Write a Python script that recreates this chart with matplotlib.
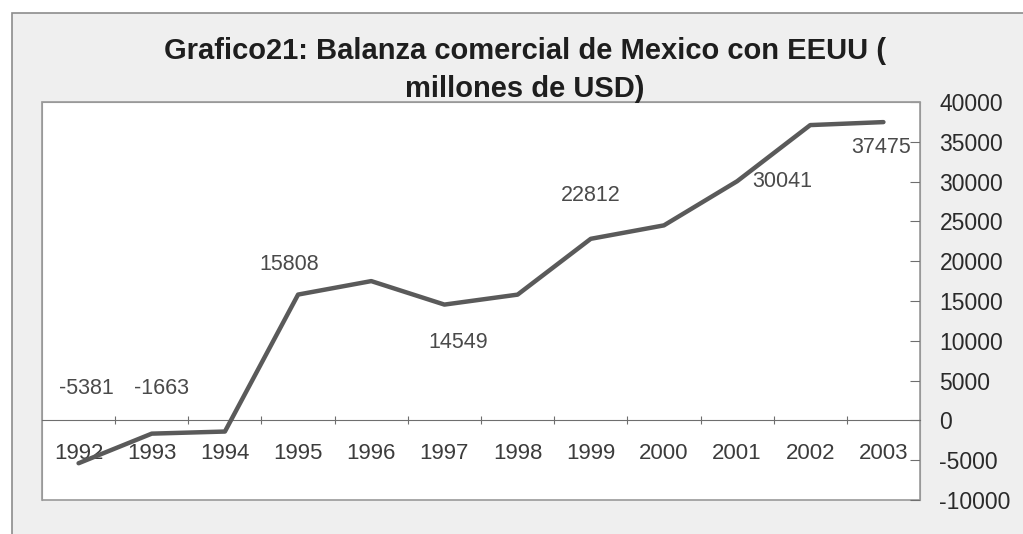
import matplotlib.pyplot as plt
from matplotlib.patches import Rectangle

plt.rcParams["font.family"] = ["Liberation Sans", "DejaVu Sans"]
plt.rcParams["axes.unicode_minus"] = False

# Balanza comercial de Mexico con EEUU, millones de USD
years = ["1992", "1993", "1994", "1995", "1996", "1997",
         "1998", "1999", "2000", "2001", "2002", "2003"]
balance = [-5381, -1663, -1400, 15808, 17500, 14549,
           15800, 22812, 24500, 30041, 37100, 37475]
labeled = ["1992", "1993", "1995", "1997", "1999", "2001", "2003"]
title_lines = ["Grafico21: Balanza comercial de Mexico con EEUU (",
               "millones de USD)"]

# offset of each value label from its point, in pixels
label_offsets = {"1992": (8, 75), "1993": (10, 45), "1995": (-9, 30),
                 "1997": (14, -38), "1999": (0, 43), "2001": (45, 0),
                 "2003": (-2, -25)}

W, H = 1023, 534
fig = plt.figure(figsize=(W / 100, H / 100), dpi=100)
fig.patch.set_facecolor("white")

# chart area frame, behind the axes; runs off the right and bottom edges
frame = Rectangle((12 / W, -0.1), 1.0, 1.1 - 13 / H, transform=fig.transFigure,
                  facecolor="#efefef", edgecolor="#8c8c8c", lw=1.2, zorder=-5)
fig.patches.append(frame)

ax = fig.add_axes([42 / W, 34 / H, 878 / W, 398 / H])
ax.set_facecolor("white")
ax.set_zorder(2)

x = list(range(len(years)))
ax.plot(x, balance, color="#5a5a5a", lw=3.2, solid_joinstyle="round",
        solid_capstyle="round", zorder=3)

for yr in labeled:
    i = years.index(yr)
    ax.annotate(str(balance[i]), (i, balance[i]), xytext=label_offsets[yr],
                textcoords="offset pixels", ha="center", va="center",
                fontsize=15.5, color="#4a4a4a")

ax.set_xlim(-0.5, len(years) - 0.5)
ax.set_ylim(-10000, 40000)

# category axis crosses at zero, ticks between categories
ax.spines["bottom"].set_position(("data", 0))
ax.spines["bottom"].set_color("#6e6e6e")
ax.set_xticks([i + 0.5 for i in range(len(years) - 1)])
ax.set_xticklabels([])
ax.set_xticks(x, minor=True)
ax.set_xticklabels(years, minor=True)
ax.tick_params(axis="x", which="major", direction="inout", length=6,
               color="#6e6e6e")
ax.tick_params(axis="x", which="minor", length=0, pad=16, labelsize=16,
               labelcolor="#3c3c3c")

ax.yaxis.tick_right()
ax.set_yticks(range(-10000, 40001, 5000))
ax.tick_params(axis="y", direction="in", length=7, pad=14, labelsize=16.5,
               labelcolor="#2a2a2a", color="#6e6e6e")

for side in ["top", "left", "right"]:
    ax.spines[side].set_color("#999999")
ax.add_patch(Rectangle((0, 0), 1, 1, transform=ax.transAxes, fill=False,
                       edgecolor="#999999", lw=1.2, clip_on=False, zorder=1))

for line, ypix in zip(title_lines, [51, 89]):
    fig.text(525 / W, 1 - ypix / H, line, ha="center", va="center",
             fontsize=21, fontweight="bold", color="#1e1e1e")

fig.savefig("out.png", dpi=100, facecolor=fig.get_facecolor())
